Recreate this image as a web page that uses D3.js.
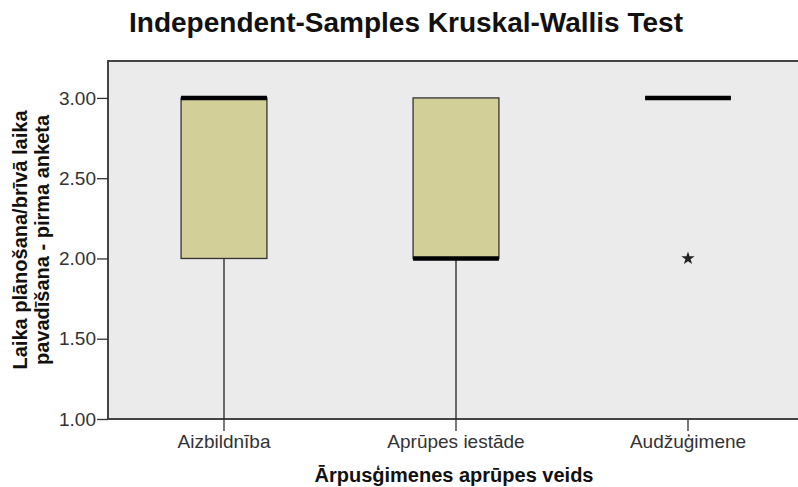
<!DOCTYPE html>
<html><head><meta charset="utf-8">
<script src="https://cdn.jsdelivr.net/npm/d3@7"></script>
<style>body{margin:0;background:#fff}svg{display:block}</style>
</head><body>
<script>
const categories = ["Aizbildnība", "Aprūpes iestāde", "Audžuģimene"];
const q1 = [2, 2, 3];
const median = [3, 2, 3];
const q3 = [3, 3, 3];
const whiskerLow = [1, 1, 3];
const whiskerHigh = [3, 3, 3];
const outliers = [[], [], [2]];
const yTicks = [1.0, 1.5, 2.0, 2.5, 3.0];

const W = 798, H = 487;
const FONT = "Arial, 'Liberation Sans', sans-serif";
const m = {left:108, top:61, right:-6, bottom:68};
const svg = d3.select("body").append("svg").attr("width", W).attr("height", H);
const pw = W - m.left - m.right, ph = H - m.top - m.bottom;
const x = d3.scaleBand().domain(categories).range([m.left, m.left + pw]).padding(0);
const y = d3.scaleLinear().domain([1.0, 3.23]).range([m.top + ph, m.top]);

svg.append("rect").attr("x", m.left).attr("y", m.top).attr("width", pw).attr("height", ph)
  .attr("fill", "#ebebeb").attr("stroke", "#444").attr("stroke-width", 2);

const bw = x.bandwidth() * 0.37;
categories.forEach((c, i) => {
  const cx = x(c) + x.bandwidth()/2;
  if (whiskerLow[i] < q1[i]) svg.append("line").attr("x1", cx).attr("x2", cx).attr("y1", y(q1[i])).attr("y2", y(whiskerLow[i])).attr("stroke", "#222").attr("stroke-width", 1.3);
  if (whiskerHigh[i] > q3[i]) svg.append("line").attr("x1", cx).attr("x2", cx).attr("y1", y(q3[i])).attr("y2", y(whiskerHigh[i])).attr("stroke", "#222").attr("stroke-width", 1.3);
  if (q3[i] > q1[i]) {
    svg.append("rect").attr("x", cx - bw/2).attr("y", y(q3[i])).attr("width", bw).attr("height", y(q1[i]) - y(q3[i]))
      .attr("fill", "#d3cf98").attr("stroke", "#333").attr("stroke-width", 1.3);
  }
  svg.append("line").attr("x1", cx - bw/2).attr("x2", cx + bw/2).attr("y1", y(median[i])).attr("y2", y(median[i]))
    .attr("stroke", "#000").attr("stroke-width", 4.5);
  outliers[i].forEach(v => {
    svg.append("path").attr("d", d3.symbol(d3.symbolStar, 55)()).attr("transform", `translate(${cx},${y(v)})`).attr("fill", "#222");
  });
});

// y axis
const ya = svg.append("g").attr("transform", `translate(${m.left},0)`)
  .call(d3.axisLeft(y).tickValues(yTicks).tickFormat(d3.format(".2f")).tickSize(11).tickPadding(1));
ya.select(".domain").remove();
ya.selectAll("line").attr("stroke", "#333").attr("stroke-width", 1.3);
ya.selectAll("text").attr("font-family", FONT).attr("font-size", 19).attr("fill", "#333");

// x axis
const xa = svg.append("g").attr("transform", `translate(0,${m.top + ph})`)
  .call(d3.axisBottom(x).tickSize(12).tickPadding(4));
xa.select(".domain").remove();
xa.selectAll("line").attr("stroke", "#333").attr("stroke-width", 1.3);
xa.selectAll("text").attr("font-family", FONT).attr("font-size", 19).attr("fill", "#333");

svg.append("text").attr("x", 406).attr("y", 32).attr("text-anchor", "middle")
  .attr("font-family", FONT).attr("font-weight", "bold").attr("font-size", 28).attr("fill", "#111")
  .text("Independent-Samples Kruskal-Wallis Test");
svg.append("text").attr("x", 454).attr("y", 482).attr("text-anchor", "middle")
  .attr("font-family", FONT).attr("font-weight", "bold").attr("font-size", 20).attr("fill", "#111")
  .text("Ārpusģimenes aprūpes veids");
const yl = svg.append("text").attr("transform", `translate(0,${(m.top + m.top + ph)/2}) rotate(-90)`)
  .attr("text-anchor", "middle").attr("font-family", FONT).attr("font-weight", "bold").attr("font-size", 20).attr("fill", "#111");
yl.append("tspan").attr("x", 0).attr("y", 27).text("Laika plānošana/brīvā laika");
yl.append("tspan").attr("x", 0).attr("y", 49).text("pavadīšana - pirma anketa");
</script>
</body></html>
